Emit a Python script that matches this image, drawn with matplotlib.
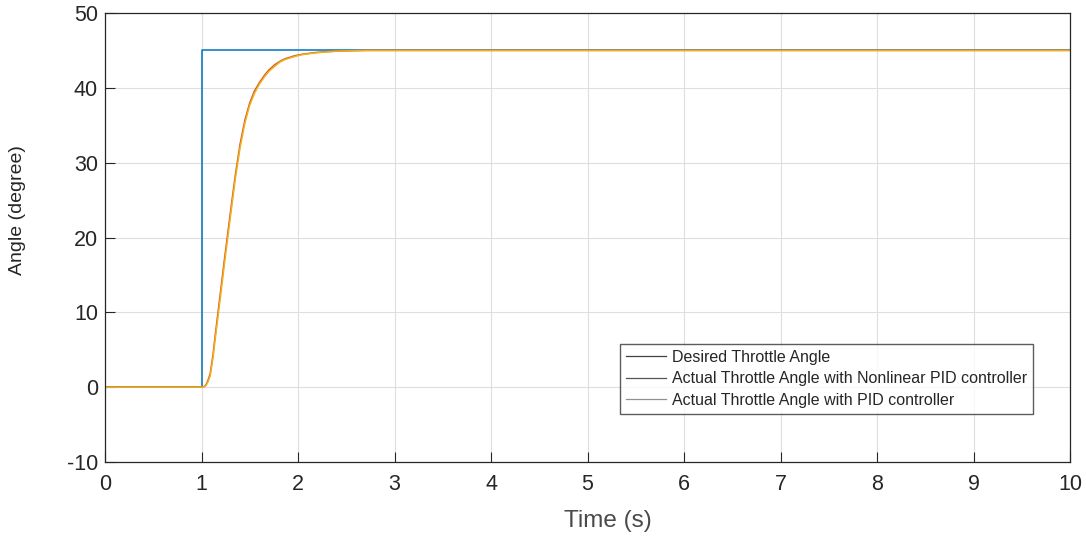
import matplotlib
matplotlib.use("Agg")
import matplotlib.pyplot as plt
from matplotlib.lines import Line2D

plt.rcParams['font.family'] = ['Liberation Sans', 'DejaVu Sans']
plt.rcParams['axes.unicode_minus'] = False

# Desired throttle angle (step at t = 1 s)
t_desired = [0, 1, 1, 10]
angle_desired = [0, 0, 45, 45]

# Actual throttle angle responses
t_actual = [0, 1.00, 1.03, 1.05, 1.07, 1.09, 1.12, 1.14, 1.19, 1.24, 1.30, 1.35,
            1.40, 1.45, 1.50, 1.55, 1.60, 1.66, 1.70, 1.76, 1.82, 1.87, 1.97,
            2.05, 2.17, 2.25, 2.40, 2.55, 2.70, 3.00, 10.0]
angle_nonlinear_pid = [0, 0, 0.1, 0.4, 1.0, 1.8, 4.4, 6.7, 12.0, 17.3, 23.4, 28.3,
                       32.5, 35.7, 38.0, 39.6, 40.7, 41.8, 42.4, 43.1, 43.6, 43.9, 44.3,
                       44.5, 44.7, 44.8, 44.9, 44.95, 45.0, 45.0, 45.0]
angle_pid = [0, 0, 0.05, 0.3, 0.8, 1.5, 4.0, 6.2, 11.4, 16.7, 22.8, 27.8,
             32.0, 35.3, 37.7, 39.3, 40.5, 41.6, 42.2, 42.9, 43.5, 43.8, 44.2,
             44.45, 44.65, 44.75, 44.9, 44.95, 45.0, 45.0, 45.0]

legend_labels = ["Desired Throttle Angle",
                 "Actual Throttle Angle with Nonlinear PID controller",
                 "Actual Throttle Angle with PID controller"]

fig = plt.figure(figsize=(10.86, 5.38), dpi=100)
ax = fig.add_axes([105 / 1086, 1 - 462 / 538, (1070 - 105) / 1086, (462 - 13) / 538])

ax.plot(t_desired, angle_desired, color='#0072BD', lw=1.1)
ax.plot(t_actual, angle_nonlinear_pid, color='#D95319', lw=1.1)
ax.plot(t_actual, angle_pid, color='#EDB120', lw=1.1)

ax.set_xlim(0, 10)
ax.set_ylim(-10, 50)
ax.set_xticks(range(0, 11))
ax.set_yticks(range(-10, 51, 10))
ax.grid(True, color='#dedede', lw=0.8)
ax.set_axisbelow(True)
ax.tick_params(direction='in', length=7, width=0.8, labelsize=15.5,
               colors='#262626', top=False, right=False)
ax.tick_params(axis='x', pad=9)
ax.tick_params(axis='y', pad=5)
for s in ax.spines.values():
    s.set_color('#262626')
    s.set_linewidth(0.9)

fig.text(18 / 1086, 1 - 210 / 538, "Angle (degree)", rotation=90,
         ha='center', va='center', fontsize=14, color='#262626')
fig.text(608 / 1086, 1 - 521 / 538, "Time (s)", ha='center', va='center',
         fontsize=17.5, color='#4a4a4a')

handles = [Line2D([], [], color='#404040', lw=0.9),
           Line2D([], [], color='#555555', lw=0.9),
           Line2D([], [], color='#909090', lw=0.9)]
leg = fig.legend(handles, legend_labels, loc='upper left',
                 bbox_to_anchor=(620 / 1086, 1 - 344 / 538),
                 fontsize=11.5, frameon=True, fancybox=False,
                 handlelength=2.5, handletextpad=0.4, labelspacing=0.42,
                 borderpad=0.35, borderaxespad=0)
leg.get_frame().set_edgecolor('#333333')
leg.get_frame().set_linewidth(1.0)
for txt in leg.get_texts():
    txt.set_color('#262626')

fig.savefig("out.png", dpi=100)
